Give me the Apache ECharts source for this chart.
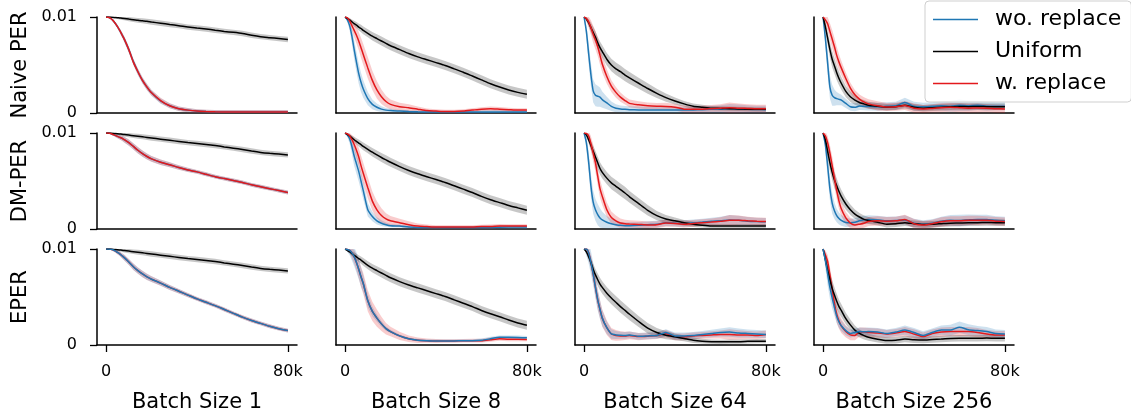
<!DOCTYPE html>
<html>
<head>
<meta charset="utf-8">
<script src="https://cdn.jsdelivr.net/npm/echarts@6/dist/echarts.min.js"></script>
<style>
  html, body { margin: 0; padding: 0; background: #fff; }
  #chart { width: 1131px; height: 418px; }
</style>
</head>
<body>
<div id="chart"></div>
<script>
// x positions in thousands of steps, values in units of 1e-3
const K = [0, 1, 2, 3, 4, 5, 6, 7, 8, 10, 12, 14, 16, 18, 20, 24, 28, 32, 36, 40, 44, 48, 52, 56, 60, 64, 68, 72, 76, 80];
const rowNames = ['Naive PER', 'DM-PER', 'EPER'];
const batchNames = ['Batch Size 1', 'Batch Size 8', 'Batch Size 64', 'Batch Size 256'];
const seriesNames = ['wo. replace', 'Uniform', 'w. replace'];
const xTicks = [0, 80];
const xTickLabels = ['0', '80k'];
const yTickLabels = ['0', '0.01'];

// Naive PER
const naive1Wo = [10, 9.97, 9.85, 9.65, 9.35, 9.0, 8.6, 8.15, 7.7, 6.6, 5.35, 4.3, 3.4, 2.7, 2.1, 1.25, 0.75, 0.45, 0.3, 0.2, 0.15, 0.12, 0.1, 0.1, 0.1, 0.1, 0.1, 0.1, 0.1, 0.1];
const naive1Uni = [10, 10, 9.99, 9.97, 9.95, 9.93, 9.9, 9.88, 9.85, 9.78, 9.72, 9.65, 9.6, 9.55, 9.48, 9.35, 9.22, 9.1, 8.95, 8.85, 8.75, 8.62, 8.5, 8.4, 8.28, 8.1, 7.95, 7.85, 7.75, 7.65];
const naive1W = [10, 9.97, 9.85, 9.65, 9.35, 9.0, 8.6, 8.15, 7.7, 6.6, 5.3, 4.3, 3.4, 2.7, 2.1, 1.3, 0.75, 0.45, 0.3, 0.2, 0.15, 0.12, 0.1, 0.1, 0.1, 0.1, 0.1, 0.1, 0.1, 0.1];
const naive8Wo = [10, 9.7, 9.1, 8.0, 6.6, 5.3, 4.1, 3.2, 2.5, 1.5, 0.9, 0.6, 0.4, 0.3, 0.25, 0.2, 0.15, 0.12, 0.1, 0.1, 0.1, 0.1, 0.1, 0.1, 0.1, 0.1, 0.1, 0.1, 0.1, 0.1];
const naive8Uni = [10, 9.85, 9.7, 9.5, 9.3, 9.15, 8.95, 8.8, 8.6, 8.3, 8.0, 7.75, 7.5, 7.25, 7.0, 6.6, 6.2, 5.85, 5.55, 5.25, 4.95, 4.6, 4.25, 3.85, 3.45, 3.05, 2.7, 2.4, 2.15, 1.95];
const naive8W = [10, 9.9, 9.6, 9.1, 8.6, 8.1, 7.5, 6.8, 6.1, 4.7, 3.4, 2.4, 1.7, 1.2, 0.9, 0.65, 0.55, 0.4, 0.25, 0.2, 0.15, 0.15, 0.2, 0.3, 0.4, 0.45, 0.4, 0.35, 0.3, 0.3];
const naive64Wo = [10, 8.5, 6.2, 4.0, 2.3, 1.85, 1.75, 1.65, 1.4, 1.05, 0.7, 0.5, 0.42, 0.38, 0.35, 0.32, 0.3, 0.3, 0.32, 0.3, 0.3, 0.32, 0.35, 0.38, 0.4, 0.45, 0.4, 0.38, 0.36, 0.35];
const naive64Uni = [10, 9.8, 9.4, 8.9, 8.4, 7.9, 7.3, 6.8, 6.4, 5.6, 5.0, 4.6, 4.3, 3.95, 3.65, 3.1, 2.55, 2.05, 1.6, 1.25, 0.95, 0.7, 0.6, 0.5, 0.48, 0.45, 0.42, 0.4, 0.38, 0.38];
const naive64W = [10, 9.85, 9.5, 8.9, 8.2, 7.6, 6.9, 6.0, 5.1, 3.8, 2.8, 2.15, 1.65, 1.3, 1.0, 0.85, 0.75, 0.7, 0.68, 0.6, 0.4, 0.38, 0.4, 0.45, 0.5, 0.55, 0.5, 0.48, 0.45, 0.45];
const naive256Wo = [10, 7.8, 5.2, 2.7, 1.85, 1.6, 1.5, 1.42, 1.35, 1.0, 0.65, 0.6, 0.72, 0.7, 0.68, 0.65, 0.7, 0.75, 1.1, 0.7, 0.65, 0.7, 0.75, 0.7, 0.8, 0.75, 0.8, 0.72, 0.7, 0.7];
const naive256Uni = [10, 9.0, 7.8, 6.6, 5.6, 4.9, 4.2, 3.6, 3.1, 2.25, 1.7, 1.35, 1.1, 0.95, 0.8, 0.7, 0.6, 0.65, 0.82, 0.6, 0.5, 0.55, 0.6, 0.65, 0.68, 0.66, 0.68, 0.66, 0.65, 0.65];
const naive256W = [10, 9.7, 9.3, 8.5, 7.7, 6.9, 6.0, 5.3, 4.7, 3.6, 2.6, 1.9, 1.45, 1.15, 0.95, 0.75, 0.62, 0.65, 0.78, 0.5, 0.42, 0.48, 0.55, 0.6, 0.55, 0.5, 0.52, 0.5, 0.45, 0.42];

// DM-PER
const dm1Wo = [10, 10, 9.95, 9.85, 9.75, 9.65, 9.55, 9.45, 9.3, 9.0, 8.6, 8.2, 7.85, 7.55, 7.3, 6.95, 6.7, 6.4, 6.15, 5.95, 5.7, 5.45, 5.25, 5.05, 4.85, 4.6, 4.4, 4.2, 4.0, 3.8];
const dm1Uni = [10, 10, 9.99, 9.97, 9.95, 9.93, 9.9, 9.87, 9.84, 9.78, 9.72, 9.66, 9.6, 9.54, 9.48, 9.36, 9.24, 9.12, 9.0, 8.9, 8.8, 8.7, 8.55, 8.42, 8.28, 8.12, 7.98, 7.88, 7.8, 7.72];
const dm1W = [10, 10, 9.95, 9.85, 9.75, 9.65, 9.55, 9.45, 9.3, 9.0, 8.6, 8.2, 7.85, 7.55, 7.3, 6.95, 6.7, 6.4, 6.15, 5.95, 5.7, 5.45, 5.25, 5.05, 4.85, 4.6, 4.4, 4.2, 4.0, 3.8];
const dm8Wo = [10, 9.8, 9.4, 8.6, 7.6, 6.8, 6.0, 5.0, 4.0, 2.0, 1.3, 0.85, 0.6, 0.45, 0.35, 0.3, 0.2, 0.15, 0.15, 0.15, 0.15, 0.15, 0.15, 0.15, 0.15, 0.15, 0.18, 0.2, 0.2, 0.2];
const dm8Uni = [10, 9.85, 9.7, 9.5, 9.3, 9.12, 8.95, 8.78, 8.6, 8.3, 8.0, 7.72, 7.45, 7.2, 6.95, 6.5, 6.1, 5.75, 5.45, 5.15, 4.85, 4.5, 4.15, 3.8, 3.4, 3.05, 2.75, 2.45, 2.2, 1.95];
const dm8W = [10, 9.9, 9.7, 9.3, 8.8, 8.2, 7.5, 6.6, 5.8, 4.3, 2.9, 2.0, 1.4, 1.05, 0.85, 0.65, 0.45, 0.3, 0.25, 0.2, 0.2, 0.2, 0.2, 0.2, 0.25, 0.25, 0.3, 0.3, 0.3, 0.3];
const dm64Wo = [10, 9.0, 7.0, 4.5, 2.8, 2.0, 1.5, 1.15, 0.95, 0.7, 0.55, 0.45, 0.38, 0.35, 0.35, 0.38, 0.45, 0.5, 0.65, 0.6, 0.55, 0.65, 0.72, 0.8, 0.85, 0.95, 0.9, 0.82, 0.78, 0.75];
const dm64Uni = [10, 9.8, 9.3, 8.7, 8.1, 7.5, 6.9, 6.3, 5.9, 5.3, 4.8, 4.45, 4.1, 3.75, 3.35, 2.65, 1.95, 1.4, 1.05, 0.85, 0.65, 0.5, 0.4, 0.32, 0.3, 0.3, 0.3, 0.3, 0.3, 0.3];
const dm64W = [10, 9.95, 9.7, 8.9, 7.9, 6.9, 5.5, 4.2, 3.4, 2.0, 1.2, 0.85, 0.62, 0.55, 0.52, 0.48, 0.42, 0.45, 0.62, 0.58, 0.5, 0.58, 0.66, 0.72, 0.8, 0.9, 0.92, 0.85, 0.8, 0.77];
const dm256Wo = [10, 8.8, 6.6, 4.2, 2.7, 1.9, 1.4, 1.1, 0.9, 0.68, 0.65, 0.7, 0.85, 0.95, 1.0, 0.95, 0.85, 0.88, 0.95, 0.6, 0.5, 0.6, 0.8, 0.9, 0.88, 0.95, 1.0, 1.0, 0.9, 0.85];
const dm256Uni = [10, 9.3, 8.1, 6.9, 5.9, 5.1, 4.5, 3.9, 3.4, 2.6, 2.0, 1.55, 1.25, 1.0, 0.88, 0.7, 0.5, 0.55, 0.66, 0.55, 0.48, 0.5, 0.55, 0.6, 0.62, 0.65, 0.65, 0.68, 0.66, 0.66];
const dm256W = [10, 9.7, 9.0, 7.9, 6.6, 5.3, 4.0, 2.9, 2.1, 1.15, 0.62, 0.42, 0.5, 0.6, 0.78, 0.85, 0.82, 0.85, 1.0, 0.55, 0.42, 0.55, 0.75, 0.85, 0.85, 0.9, 0.9, 0.9, 0.82, 0.77];

// EPER
const eper1Wo = [10, 10, 9.97, 9.92, 9.8, 9.65, 9.5, 9.3, 9.1, 8.65, 8.15, 7.75, 7.4, 7.1, 6.85, 6.45, 6.0, 5.6, 5.2, 4.8, 4.45, 4.1, 3.7, 3.3, 2.9, 2.55, 2.25, 1.95, 1.7, 1.5];
const eper1Uni = [10, 10, 9.99, 9.97, 9.95, 9.93, 9.9, 9.87, 9.84, 9.78, 9.72, 9.66, 9.6, 9.54, 9.48, 9.36, 9.24, 9.12, 9.0, 8.9, 8.8, 8.7, 8.55, 8.42, 8.28, 8.12, 7.98, 7.88, 7.8, 7.72];
const eper1W = [10, 10, 9.97, 9.92, 9.8, 9.65, 9.5, 9.3, 9.1, 8.65, 8.15, 7.75, 7.4, 7.1, 6.85, 6.45, 6.0, 5.6, 5.2, 4.8, 4.45, 4.1, 3.7, 3.3, 2.9, 2.55, 2.25, 1.95, 1.7, 1.5];
const eper8Wo = [10, 9.95, 9.85, 9.6, 9.2, 8.6, 7.9, 7.1, 6.4, 4.6, 3.5, 2.8, 2.2, 1.7, 1.4, 0.95, 0.65, 0.5, 0.45, 0.42, 0.42, 0.42, 0.45, 0.45, 0.5, 0.65, 0.8, 0.8, 0.78, 0.75];
const eper8Uni = [10, 9.85, 9.7, 9.52, 9.35, 9.18, 9.0, 8.85, 8.65, 8.3, 8.0, 7.75, 7.5, 7.25, 7.0, 6.6, 6.25, 5.95, 5.65, 5.35, 5.05, 4.7, 4.35, 4.0, 3.6, 3.25, 2.95, 2.6, 2.3, 2.05];
const eper8W = [10, 9.95, 9.85, 9.6, 9.2, 8.6, 7.9, 7.1, 6.4, 4.6, 3.5, 2.8, 2.2, 1.7, 1.4, 0.95, 0.65, 0.5, 0.45, 0.42, 0.42, 0.42, 0.45, 0.45, 0.45, 0.55, 0.65, 0.6, 0.6, 0.58];
const eper64Wo = [10, 10, 9.6, 8.6, 7.4, 6.0, 4.7, 3.7, 2.8, 1.8, 1.15, 1.05, 1.02, 1.0, 1.05, 0.9, 0.95, 1.0, 1.3, 0.95, 0.95, 1.0, 1.1, 1.2, 1.3, 1.35, 1.25, 1.2, 1.15, 1.1];
const eper64Uni = [10, 9.7, 9.2, 8.6, 7.9, 7.3, 6.8, 6.35, 6.0, 5.4, 4.9, 4.45, 4.0, 3.6, 3.2, 2.45, 1.75, 1.3, 1.02, 0.85, 0.68, 0.5, 0.4, 0.35, 0.33, 0.35, 0.35, 0.38, 0.4, 0.4];
const eper64W = [10, 10, 9.6, 8.6, 7.4, 6.0, 4.7, 3.7, 2.8, 1.8, 1.15, 1.0, 0.95, 0.95, 1.0, 0.88, 0.92, 0.98, 1.2, 0.85, 0.85, 0.95, 1.0, 1.05, 1.1, 1.1, 1.05, 1.05, 1.0, 1.1];
const eper256Wo = [10, 8.8, 7.4, 6.0, 4.9, 3.9, 3.0, 2.4, 2.0, 1.5, 1.2, 1.3, 1.4, 1.38, 1.4, 1.35, 1.2, 1.35, 1.55, 1.3, 1.0, 1.3, 1.55, 1.55, 1.85, 1.6, 1.5, 1.4, 1.2, 1.15];
const eper256Uni = [10, 8.9, 7.8, 6.8, 5.9, 5.2, 4.55, 4.0, 3.6, 2.75, 2.1, 1.55, 1.2, 0.98, 0.8, 0.6, 0.47, 0.5, 0.62, 0.55, 0.52, 0.58, 0.62, 0.68, 0.7, 0.7, 0.7, 0.72, 0.7, 0.7];
const eper256W = [10, 9.4, 8.7, 7.3, 5.8, 4.3, 3.2, 2.5, 2.0, 1.4, 1.05, 1.0, 1.35, 1.35, 1.3, 1.25, 1.15, 1.25, 1.4, 1.15, 0.88, 1.2, 1.35, 1.4, 1.4, 1.4, 1.3, 1.15, 1.05, 1.05];

// half widths of the shaded bands, per batch size
const band1Wo = [0, 0.04, 0.08, 0.12, 0.16, 0.2, 0.24, 0.27, 0.3, 0.32, 0.33, 0.33, 0.33, 0.32, 0.3, 0.28, 0.26, 0.24, 0.22, 0.2, 0.2, 0.2, 0.2, 0.2, 0.2, 0.2, 0.2, 0.2, 0.2, 0.2];
const band1Uni = [0, 0.04, 0.08, 0.1, 0.12, 0.14, 0.16, 0.18, 0.2, 0.22, 0.24, 0.25, 0.26, 0.27, 0.28, 0.28, 0.28, 0.28, 0.28, 0.28, 0.28, 0.28, 0.28, 0.28, 0.28, 0.28, 0.28, 0.28, 0.28, 0.28];
const band1W = [0, 0.04, 0.08, 0.12, 0.16, 0.2, 0.24, 0.27, 0.3, 0.32, 0.33, 0.33, 0.33, 0.32, 0.3, 0.28, 0.26, 0.24, 0.22, 0.2, 0.2, 0.2, 0.2, 0.2, 0.2, 0.2, 0.2, 0.2, 0.2, 0.2];
const band8Wo = [0, 0.25, 0.5, 0.8, 1.0, 1.05, 1.05, 1.0, 0.9, 0.7, 0.5, 0.38, 0.3, 0.22, 0.18, 0.15, 0.14, 0.14, 0.14, 0.14, 0.14, 0.14, 0.14, 0.15, 0.18, 0.2, 0.2, 0.2, 0.2, 0.2];
const band8Uni = [0, 0.1, 0.18, 0.25, 0.3, 0.33, 0.36, 0.38, 0.4, 0.42, 0.44, 0.45, 0.46, 0.47, 0.47, 0.47, 0.47, 0.47, 0.47, 0.47, 0.47, 0.47, 0.47, 0.47, 0.47, 0.47, 0.47, 0.47, 0.47, 0.47];
const band8W = [0, 0.15, 0.3, 0.5, 0.7, 0.85, 0.95, 1.05, 1.1, 1.1, 1.0, 0.9, 0.75, 0.6, 0.5, 0.42, 0.35, 0.28, 0.22, 0.2, 0.18, 0.18, 0.18, 0.2, 0.2, 0.22, 0.22, 0.2, 0.2, 0.2];
const band64Wo = [0, 0.7, 1.1, 1.2, 1.2, 1.15, 1.1, 1.0, 0.85, 0.65, 0.5, 0.42, 0.36, 0.35, 0.35, 0.35, 0.35, 0.35, 0.35, 0.35, 0.35, 0.35, 0.35, 0.38, 0.42, 0.5, 0.48, 0.42, 0.4, 0.4];
const band64Uni = [0, 0.2, 0.38, 0.5, 0.58, 0.62, 0.64, 0.65, 0.65, 0.65, 0.65, 0.65, 0.65, 0.64, 0.62, 0.58, 0.54, 0.48, 0.42, 0.36, 0.3, 0.28, 0.25, 0.22, 0.22, 0.22, 0.22, 0.22, 0.22, 0.22];
const band64W = [0, 0.3, 0.55, 0.75, 0.9, 0.95, 0.95, 0.95, 0.9, 0.75, 0.62, 0.55, 0.48, 0.42, 0.4, 0.38, 0.35, 0.35, 0.38, 0.35, 0.35, 0.35, 0.35, 0.38, 0.42, 0.55, 0.48, 0.42, 0.4, 0.4];
const band256Wo = [0, 0.8, 1.2, 1.2, 1.1, 0.85, 0.7, 0.62, 0.55, 0.48, 0.42, 0.42, 0.42, 0.42, 0.42, 0.42, 0.42, 0.42, 0.48, 0.48, 0.42, 0.42, 0.48, 0.55, 0.6, 0.55, 0.48, 0.48, 0.42, 0.42];
const band256Uni = [0, 0.45, 0.7, 0.82, 0.85, 0.82, 0.78, 0.72, 0.68, 0.6, 0.55, 0.48, 0.42, 0.4, 0.36, 0.34, 0.34, 0.34, 0.34, 0.34, 0.34, 0.34, 0.34, 0.34, 0.34, 0.34, 0.34, 0.34, 0.34, 0.34];
const band256W = [0, 0.45, 0.7, 0.85, 0.95, 0.95, 0.9, 0.82, 0.75, 0.62, 0.55, 0.5, 0.48, 0.48, 0.48, 0.48, 0.42, 0.42, 0.48, 0.48, 0.42, 0.42, 0.48, 0.48, 0.48, 0.48, 0.48, 0.42, 0.42, 0.42];

const panels = [
  [[naive1Wo, naive1Uni, naive1W], [naive8Wo, naive8Uni, naive8W], [naive64Wo, naive64Uni, naive64W], [naive256Wo, naive256Uni, naive256W]],
  [[dm1Wo, dm1Uni, dm1W], [dm8Wo, dm8Uni, dm8W], [dm64Wo, dm64Uni, dm64W], [dm256Wo, dm256Uni, dm256W]],
  [[eper1Wo, eper1Uni, eper1W], [eper8Wo, eper8Uni, eper8W], [eper64Wo, eper64Uni, eper64W], [eper256Wo, eper256Uni, eper256W]]
];
const bands = [[band1Wo, band1Uni, band1W], [band8Wo, band8Uni, band8W], [band64Wo, band64Uni, band64W], [band256Wo, band256Uni, band256W]];

const colors = ['#1f77b4', '#000000', '#e3191c'];
const font = 'DejaVu Sans';
const lefts = [97, 336, 575, 814];
const tops = [17, 133, 249];

// band drawn as one polygon through the axis scales
function bandRenderer(rows, color) {
  return function (params, api) {
    if (params.dataIndex !== 0) return null;
    const upper = rows.map(d => api.coord([d[0], d[2]]));
    const lower = rows.map(d => api.coord([d[0], d[1]])).reverse();
    return {
      type: 'polygon',
      shape: { points: upper.concat(lower) },
      style: { fill: color, opacity: 0.22 }
    };
  };
}

let grid = [], xAxis = [], yAxis = [], series = [];
for (let r = 0; r < 3; r++) {
  for (let c = 0; c < 4; c++) {
    const gi = r * 4 + c;
    const bottomRow = r == 2;
    grid.push({ left: lefts[c], top: tops[r], width: 200, height: 96 });
    xAxis.push({
      type: 'value', gridIndex: gi, min: -4, max: 84,
      name: bottomRow ? batchNames[c] : '',
      nameLocation: 'middle', nameGap: 47,
      nameTextStyle: { fontFamily: font, fontSize: 21, color: '#000' },
      axisLine: { show: true, onZero: false, lineStyle: { color: '#000', width: 1.5 } },
      axisTick: { show: bottomRow, customValues: xTicks, length: 7, lineStyle: { color: '#000', width: 1.3 } },
      axisLabel: {
        show: bottomRow, customValues: xTicks, margin: 19,
        fontFamily: font, fontSize: 16, color: '#000',
        formatter: v => xTickLabels[xTicks.indexOf(v)]
      },
      splitLine: { show: false }
    });
    yAxis.push({
      type: 'value', gridIndex: gi, min: 0, max: 10, interval: 10,
      name: c == 0 ? rowNames[r] : '',
      nameLocation: 'middle', nameGap: 66,
      nameTextStyle: { fontFamily: font, fontSize: 21, color: '#000' },
      axisLine: { show: true, onZero: false, lineStyle: { color: '#000', width: 1.5 } },
      axisTick: { show: c == 0, length: 7, lineStyle: { color: '#000', width: 1.3 } },
      axisLabel: {
        show: c == 0, margin: 20,
        fontFamily: font, fontSize: 16, color: '#000',
        formatter: v => v == 10 ? yTickLabels[1] : yTickLabels[0]
      },
      splitLine: { show: false }
    });
    // blue drawn last in the EPER row, red last elsewhere
    const order = r == 2 ? [2, 1, 0] : [0, 1, 2];
    order.forEach(s => {
      const vals = panels[r][c][s];
      const half = bands[c][s];
      const rows = K.map((k, i) => [k, vals[i] - half[i], vals[i] + half[i]]);
      series.push({
        type: 'custom', xAxisIndex: gi, yAxisIndex: gi, silent: true, clip: true, z: 1,
        data: rows, encode: { x: 0, y: [1, 2] },
        renderItem: bandRenderer(rows, colors[s])
      });
    });
    order.forEach((s, oi) => {
      const vals = panels[r][c][s];
      series.push({
        name: seriesNames[s], type: 'line', xAxisIndex: gi, yAxisIndex: gi,
        data: K.map((k, i) => [k, vals[i]]),
        symbol: 'none', smooth: 0.2, color: colors[s],
        lineStyle: { color: colors[s], width: 1.5 }, z: 3 + oi
      });
    });
  }
}

const chart = echarts.init(document.getElementById('chart'), null, { renderer: 'canvas' });
chart.setOption({
  animation: false,
  backgroundColor: '#fff',
  textStyle: { fontFamily: font },
  legend: {
    data: seriesNames, orient: 'vertical', left: 925, top: 1,
    icon: 'rect', itemWidth: 45, itemHeight: 1.5,
    padding: [6, 10, 6, 8], itemGap: 7,
    textStyle: { fontFamily: font, fontSize: 22, color: '#000', lineHeight: 25, padding: [0, 0, 0, 12] },
    borderColor: '#cfcfcf', borderWidth: 1, borderRadius: 4,
    backgroundColor: 'rgba(255,255,255,0.8)', z: 20
  },
  grid: grid,
  xAxis: xAxis,
  yAxis: yAxis,
  series: series
});
</script>
</body>
</html>
